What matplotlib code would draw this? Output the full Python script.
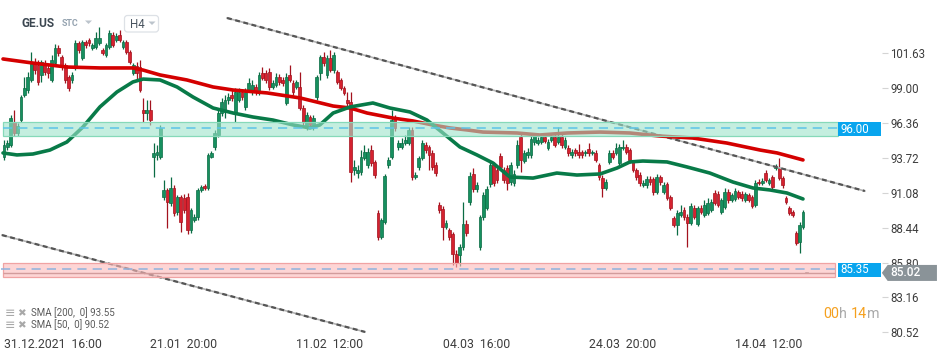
import matplotlib
matplotlib.use("Agg")
import matplotlib.pyplot as plt
from matplotlib.patches import Rectangle, Polygon, FancyBboxPatch
import numpy as np

plt.rcParams['font.family'] = ['Roboto', 'DejaVu Sans']

# ---------------- data ----------------
opens = [
    93.78, 94.54, 94.69, 96.43, 95.60, 96.58, 98.47, 98.85, 99.61, 100.89,
    100.74, 99.99, 100.89, 100.52, 99.61, 100.89, 102.03, 101.35, 100.74, 99.84,
    99.61, 100.52, 102.41, 101.27, 102.48, 102.63, 102.03, 102.10, 102.41, 101.88,
    101.50, 102.10, 103.01, 102.63, 103.01, 102.10, 102.48, 101.73, 100.14, 100.67,
    100.59, 97.34, 97.11, 97.34, 93.78, 93.94, 93.78, 90.76, 91.29, 90.30,
    91.44, 89.62, 90.76, 90.68, 90.76, 88.26, 89.02, 89.25, 91.29, 91.59,
    91.44, 93.78, 94.54, 95.45, 97.11, 97.19, 98.10, 98.47, 97.11, 98.10,
    98.70, 97.57, 98.85, 98.70, 99.08, 98.70, 100.14, 100.14, 100.21, 99.08,
    99.23, 99.84, 99.61, 97.87, 99.99, 99.38, 99.08, 99.08, 97.49, 96.05,
    96.81, 96.05, 98.32, 100.14, 101.35, 99.99, 101.27, 100.37, 100.21, 99.61,
    99.00, 98.10, 97.94, 92.80, 92.57, 92.65, 93.71, 93.18, 94.31, 93.41,
    89.55, 87.73, 88.87, 93.18, 93.78, 96.73, 94.54, 94.54, 94.84, 94.84,
    95.83, 92.27, 93.03, 93.71, 94.69, 94.54, 94.09, 93.18, 90.15, 89.85,
    88.49, 88.26, 87.96, 86.45, 86.37, 86.98, 88.72, 90.38, 92.50, 91.36,
    86.98, 89.25, 89.93, 91.74, 93.18, 92.80, 93.86, 92.80, 92.95, 91.89,
    91.82, 93.18, 95.30, 93.48, 93.94, 93.94, 94.92, 94.84, 94.92, 95.30,
    94.47, 95.07, 95.30, 94.92, 95.30, 94.54, 94.47, 93.94, 94.31, 94.16,
    94.16, 94.09, 94.39, 94.09, 94.09, 93.18, 92.20, 91.44, 93.41, 94.09,
    94.09, 93.33, 94.47, 94.54, 94.31, 93.41, 92.80, 92.42, 91.67, 91.67,
    92.12, 92.12, 91.14, 92.27, 91.14, 91.74, 90.76, 89.17, 88.64, 89.40,
    89.78, 89.25, 88.79, 89.93, 88.72, 89.93, 89.40, 89.55, 89.78, 91.06,
    90.99, 89.62, 90.00, 91.14, 90.53, 90.61, 91.14, 90.99, 90.53, 90.91,
    90.76, 90.15, 91.89, 91.82, 92.57, 91.82, 92.27, 92.95, 92.95, 92.20,
    90.68, 89.93, 89.62, 88.04, 87.35, 88.49,
]
highs = [
    95.07, 95.07, 96.96, 97.34, 96.36, 98.47, 99.84, 100.21, 101.73, 101.27,
    101.12, 101.12, 101.12, 100.74, 101.50, 102.33, 102.26, 101.50, 100.89, 99.99,
    100.21, 102.63, 102.56, 102.63, 102.63, 102.79, 102.41, 103.24, 103.62, 102.03,
    102.41, 103.39, 103.24, 103.16, 103.39, 102.63, 102.63, 101.88, 100.89, 100.97,
    101.12, 98.25, 98.10, 98.10, 94.84, 94.69, 96.21, 92.04, 91.44, 92.27,
    91.67, 90.91, 90.91, 90.99, 91.06, 89.93, 89.47, 91.44, 91.67, 91.74,
    94.09, 94.24, 95.83, 97.49, 98.25, 98.47, 98.63, 98.85, 99.00, 99.00,
    98.93, 99.00, 99.76, 99.61, 99.31, 100.21, 100.59, 100.37, 100.52, 99.61,
    100.14, 100.06, 99.84, 100.14, 100.74, 99.61, 99.61, 100.21, 97.72, 97.19,
    96.96, 96.96, 99.99, 101.50, 101.73, 101.50, 101.88, 101.73, 100.37, 99.76,
    99.15, 98.70, 98.70, 93.56, 93.18, 94.31, 94.69, 94.47, 94.69, 93.56,
    89.78, 89.17, 92.50, 93.78, 97.34, 96.96, 95.07, 95.22, 95.45, 96.05,
    96.05, 92.65, 93.86, 95.07, 94.92, 94.69, 94.31, 93.41, 90.38, 90.08,
    89.02, 88.41, 88.11, 86.75, 87.20, 90.38, 89.02, 92.65, 92.95, 91.89,
    89.40, 91.14, 91.59, 93.56, 93.41, 93.03, 94.09, 93.03, 93.18, 93.41,
    92.80, 95.07, 95.60, 94.31, 94.47, 95.37, 95.60, 95.30, 95.52, 95.52,
    95.15, 95.52, 95.52, 96.05, 95.52, 95.30, 94.69, 94.39, 94.47, 94.77,
    94.31, 94.31, 94.84, 94.31, 94.31, 93.33, 92.42, 92.12, 94.31, 94.31,
    94.84, 94.77, 95.07, 94.77, 94.47, 93.56, 92.95, 92.65, 92.04, 92.35,
    92.35, 92.27, 92.50, 92.42, 91.89, 91.89, 90.91, 89.32, 89.78, 90.15,
    90.00, 89.47, 90.30, 90.15, 90.08, 90.15, 90.53, 90.68, 90.61, 91.29,
    91.21, 90.68, 91.44, 91.36, 91.06, 91.44, 91.29, 91.21, 91.14, 91.06,
    90.91, 92.04, 92.12, 92.20, 92.80, 92.20, 92.42, 93.25, 93.71, 92.35,
    90.83, 90.08, 89.78, 88.19, 88.87, 89.78,
]
lows = [
    93.56, 94.31, 94.54, 95.37, 95.37, 96.43, 98.32, 98.63, 99.46, 100.06,
    99.23, 99.46, 99.99, 99.76, 99.46, 100.74, 101.42, 100.37, 99.38, 98.78,
    99.38, 100.37, 101.65, 101.12, 102.03, 102.18, 101.88, 101.95, 102.26, 101.50,
    101.35, 101.95, 102.10, 102.48, 102.48, 101.95, 101.58, 100.82, 99.99, 99.61,
    98.70, 96.43, 96.58, 96.21, 92.27, 93.56, 93.63, 90.53, 88.41, 90.08,
    89.32, 89.40, 88.11, 89.55, 87.96, 88.04, 88.87, 89.02, 91.14, 91.29,
    91.29, 93.71, 94.31, 95.30, 96.89, 96.73, 97.79, 98.02, 96.43, 97.94,
    98.10, 97.34, 98.70, 98.47, 98.47, 98.47, 99.61, 99.38, 98.85, 98.93,
    99.08, 99.23, 99.15, 97.72, 99.46, 98.47, 98.93, 97.34, 96.21, 95.83,
    95.98, 95.83, 98.10, 99.61, 100.67, 99.76, 100.21, 100.14, 99.31, 98.85,
    98.47, 97.64, 91.89, 92.42, 92.20, 92.42, 93.56, 92.95, 93.10, 92.20,
    87.51, 87.58, 88.72, 92.95, 93.63, 95.75, 94.31, 94.39, 94.69, 94.69,
    92.04, 92.12, 92.80, 93.56, 94.09, 92.80, 92.80, 92.35, 89.55, 87.51,
    88.34, 87.51, 85.62, 85.46, 85.54, 86.75, 87.81, 90.15, 91.14, 91.14,
    86.75, 89.02, 89.78, 91.51, 91.59, 91.82, 92.80, 91.82, 91.29, 91.67,
    91.59, 92.95, 92.65, 93.33, 93.71, 93.71, 94.69, 94.69, 94.77, 94.84,
    94.31, 94.92, 94.54, 94.77, 94.47, 94.39, 93.86, 93.71, 93.86, 93.71,
    93.71, 93.86, 93.86, 93.94, 93.41, 92.04, 90.76, 91.29, 93.25, 93.63,
    93.94, 93.10, 94.31, 94.01, 93.33, 92.65, 92.04, 91.59, 91.51, 91.44,
    91.67, 90.91, 90.99, 91.67, 90.99, 90.53, 89.78, 88.49, 87.88, 89.25,
    89.02, 86.98, 88.64, 89.10, 88.57, 89.47, 89.25, 89.40, 89.62, 90.15,
    90.00, 89.47, 89.85, 90.30, 90.38, 90.46, 90.61, 90.46, 90.38, 90.38,
    89.93, 90.00, 91.67, 91.67, 91.89, 91.67, 91.36, 92.80, 92.04, 91.44,
    90.23, 89.40, 89.25, 87.13, 86.52, 88.34,
]
closes = [
    94.69, 94.84, 96.73, 95.60, 96.13, 98.32, 99.00, 99.84, 100.97, 100.37,
    99.46, 100.97, 100.21, 100.14, 101.12, 102.03, 101.65, 100.59, 99.61, 99.00,
    99.99, 102.41, 101.88, 102.48, 102.26, 102.41, 102.26, 102.79, 102.79, 101.65,
    102.26, 103.16, 102.26, 102.94, 102.63, 102.48, 101.73, 100.97, 100.74, 100.14,
    98.85, 97.11, 97.34, 96.58, 94.09, 94.16, 95.98, 91.29, 90.38, 91.44,
    89.55, 90.76, 88.87, 89.78, 88.26, 89.78, 89.25, 91.29, 91.51, 91.44,
    93.94, 94.09, 95.60, 97.11, 97.94, 98.10, 98.32, 98.25, 98.70, 98.70,
    98.32, 98.70, 99.38, 99.23, 98.70, 99.99, 99.76, 99.61, 99.08, 99.38,
    99.84, 99.46, 99.38, 99.84, 99.61, 98.70, 99.46, 97.49, 96.43, 96.96,
    96.21, 96.73, 99.84, 101.35, 100.89, 101.27, 100.37, 101.50, 99.46, 99.00,
    98.63, 97.87, 92.65, 93.03, 92.80, 93.78, 94.16, 94.16, 93.33, 92.42,
    87.73, 89.02, 92.35, 93.56, 96.58, 95.98, 94.84, 94.84, 95.07, 95.83,
    92.27, 92.42, 93.71, 94.84, 94.31, 93.94, 93.03, 92.57, 89.78, 88.49,
    88.79, 87.73, 86.45, 85.77, 86.98, 88.72, 88.04, 92.35, 91.36, 91.67,
    89.25, 90.91, 91.36, 93.18, 91.82, 92.04, 93.03, 92.04, 91.82, 93.18,
    92.50, 94.69, 93.56, 94.09, 94.16, 95.15, 95.37, 95.07, 95.30, 94.99,
    94.92, 95.30, 94.69, 95.30, 94.69, 95.07, 94.09, 94.16, 94.09, 93.94,
    93.94, 94.16, 94.09, 94.16, 93.56, 92.27, 91.44, 91.89, 94.09, 93.78,
    94.47, 94.54, 94.54, 94.16, 93.56, 92.80, 92.27, 91.82, 91.82, 92.12,
    91.89, 91.14, 92.27, 91.89, 91.67, 90.68, 89.93, 88.64, 89.55, 89.62,
    89.25, 88.79, 90.08, 89.25, 89.93, 89.62, 90.15, 90.30, 90.38, 90.30,
    90.15, 90.53, 91.14, 90.53, 90.91, 91.21, 90.76, 90.68, 90.99, 90.53,
    90.08, 91.82, 91.82, 91.97, 92.04, 92.04, 91.51, 93.03, 92.20, 91.67,
    90.38, 89.55, 89.40, 87.28, 88.64, 89.62,
]
# live (forming) candle at the current quote
live_open, live_high, live_low, live_close = 85.06, 85.08, 84.99, 85.02

# moving averages (bar position, price)
sma200_pos = [-0.3, 8.5, 18.5, 28.2, 37.9, 40.9, 45.9, 53.8, 61.5, 67.4, 77.4, 87.1,
              96.8, 101.8, 106.8, 114.4, 120.3, 126.2, 131.2, 136.2, 140.9, 150.9,
              157.6, 165.6, 175.3, 184.1, 192.9, 202.6, 212.6, 222.4, 227.4, 235.0]
sma200_val = [101.20, 100.89, 100.59, 100.52, 100.52, 100.36, 99.99, 99.61, 99.08,
              98.85, 98.63, 98.25, 97.64, 97.49, 97.11, 96.73, 96.51, 96.20, 95.98,
              95.83, 95.67, 95.60, 95.45, 95.60, 95.67, 95.60, 95.37, 95.22, 94.84,
              94.31, 94.09, 93.56]
sma50_pos = [-0.3, 3.8, 8.5, 13.5, 18.5, 23.2, 28.2, 33.2, 37.9, 40.9, 45.9, 50.9,
             55.6, 61.5, 67.4, 73.2, 79.1, 85.0, 90.0, 92.9, 96.8, 101.8, 108.5,
             113.5, 119.4, 124.4, 129.1, 134.1, 139.1, 143.8, 148.8, 155.6, 162.6,
             168.5, 175.3, 180.3, 184.1, 187.9, 195.0, 200.9, 207.6, 214.4, 220.3,
             225.3, 230.3, 235.0]
sma50_val = [94.09, 93.94, 94.01, 94.31, 94.92, 96.05, 97.57, 98.70, 99.46, 99.68,
             99.61, 99.08, 98.32, 97.49, 97.11, 96.81, 96.58, 96.21, 95.98, 96.21,
             97.11, 97.57, 97.87, 97.49, 97.19, 96.58, 95.60, 94.54, 93.94, 93.33,
             92.27, 92.19, 92.57, 92.42, 92.50, 92.95, 93.41, 93.48, 93.41, 93.03,
             92.57, 91.89, 91.44, 91.29, 91.06, 90.61]
sma200_last = 93.55
sma50_last = 90.52

# drawn objects
upper_trend_pos = [65.6, 253.2]
upper_trend_val = [104.30, 91.21]
lower_trend_pos = [-0.6, 106.2]
lower_trend_val = [87.88, 80.55]
resistance_level = 96.00
resistance_zone = (95.37, 96.43)
support_level = 85.35
support_zone = (84.71, 85.77)
zone_start, zone_end = -0.3, 245.3
last_price = 85.02

price_ticks = [101.63, 99.00, 96.36, 93.72, 91.08, 88.44, 85.80, 83.16, 80.52]
date_tick_pos = [0, 43, 86, 129, 172, 215]
date_labels = ['31.12.2021  16:00', '21.01  20:00', '11.02  12:00',
               '04.03  16:00', '24.03  20:00', '14.04  12:00']

# ---------------- figure ----------------
W, H = 950, 358
fig = plt.figure(figsize=(W / 100, H / 100), dpi=100)
fig.patch.set_facecolor('white')
PR, PB = 882, 335
ax = fig.add_axes([0, 1 - PB / H, PR / W, PB / H])
ax.set_xlim(-1.18, 258.24)
ax.set_ylim(80.32, 105.66)
ax.set_facecolor('none')
for s in ax.spines.values():
    s.set_visible(False)

o = np.array(opens); h = np.array(highs); l = np.array(lows); c = np.array(closes)
idx = np.arange(len(o))
up = c >= o
body_col = np.where(up, '#16905f', '#d5222f')
edge_col = np.where(up, '#0a6c44', '#a3121e')
ax.vlines(idx, l, h, colors=edge_col, lw=0.9, zorder=3)
ax.bar(idx, np.maximum(np.abs(c - o), 0.07), bottom=np.minimum(o, c), width=0.8,
       color=body_col, edgecolor=edge_col, linewidth=0.5, zorder=4)
li = len(o)
ax.vlines([li], [live_low], [live_high], colors='#8a8a8a', lw=0.9, zorder=3)
ax.bar([li], [max(abs(live_close - live_open), 0.07)], bottom=[min(live_open, live_close)],
       width=0.8, color='#9a9a9a', edgecolor='#808080', linewidth=0.5, zorder=4)

# moving averages
ax.plot(sma200_pos, sma200_val, color='#d40000', lw=2.6, zorder=5, solid_capstyle='round',
        solid_joinstyle='round')
ax.plot(sma50_pos, sma50_val, color='#087a48', lw=2.6, zorder=5, solid_capstyle='round',
        solid_joinstyle='round')

# trend lines
for xs, ys in [(upper_trend_pos, upper_trend_val), (lower_trend_pos, lower_trend_val)]:
    ax.plot(xs, ys, color='#b4b4b4', lw=1.2, zorder=4.6)
    ax.plot(xs, ys, color='#555555', lw=1.6, zorder=4.7, dashes=(2.2, 1.6))

# zones
ax.add_patch(Rectangle((zone_start, resistance_zone[0]), zone_end - zone_start,
                       resistance_zone[1] - resistance_zone[0], facecolor='#9ee4cb',
                       alpha=0.6, edgecolor='none', zorder=6))
ax.add_patch(Rectangle((zone_start, resistance_zone[0]), zone_end - zone_start,
                       resistance_zone[1] - resistance_zone[0], fill=False,
                       edgecolor='#86d9b9', lw=0.9, zorder=6.1))
ax.add_patch(Rectangle((zone_start, support_zone[0]), zone_end - 0.9 - zone_start,
                       support_zone[1] - support_zone[0], facecolor='#fcb9b9',
                       alpha=0.6, edgecolor='none', zorder=6))
ax.add_patch(Rectangle((zone_start, support_zone[0]), zone_end - 0.9 - zone_start,
                       support_zone[1] - support_zone[0], fill=False,
                       edgecolor='#f0a3a3', lw=0.9, zorder=6.1))
ax.hlines(resistance_level, zone_start, zone_end, colors='#5cc4e8', lw=1.1,
          linestyles=(0, (6, 4)), zorder=7)
ax.hlines(support_level, zone_start - 0.5, zone_end, colors='#8fb2de', lw=1.1,
          linestyles=(0, (6, 4)), zorder=7)
ax.hlines(last_price, zone_start, zone_end - 0.9, colors='#d29c9c', lw=1.0, zorder=7)

# level labels
box_x0, box_x1 = 245.3, 257.9
for lvl, (z0, z1) in [(resistance_level, resistance_zone), (support_level, support_zone)]:
    ax.add_patch(Rectangle((box_x0, z0), box_x1 - box_x0, z1 - z0, facecolor='#08a5ee',
                           edgecolor='none', zorder=8, clip_on=False))
    ax.text(box_x0 + 0.7, (z0 + z1) / 2, f'{lvl:.2f}', color='white', fontsize=8.3,
            va='center', ha='left', zorder=9, clip_on=False)

# last price tag
tag = Polygon([(258.2, last_price), (259.9, 85.62), (274.4, 85.62), (274.4, 84.41),
               (259.9, 84.41)], closed=True, facecolor='#8a9398', edgecolor='none',
              zorder=10, clip_on=False)
ax.add_patch(tag)
ax.text(260.6, last_price, f'{last_price:.2f}', color='white', fontsize=8.6,
        fontweight='medium', va='center', ha='left', zorder=11, clip_on=False)

# axes ticks
ax.yaxis.tick_right()
ax.set_yticks(price_ticks)
ax.set_yticklabels([f'{v:.2f}' for v in price_ticks])
ax.tick_params(axis='y', length=4, width=0.8, color='#d4d4d4', pad=2,
               labelsize=8.3, labelcolor='#3d3d3d')
ax.set_xticks(date_tick_pos)
ax.set_xticklabels(date_labels)
for t in ax.get_xticklabels():
    t.set_ha('left')
ax.tick_params(axis='x', length=0, pad=2, labelsize=8.8, labelcolor='#3d3d3d')

# ---------------- decorations (pixel positions) ----------------
def fx(px):
    return px / W

def fy(py):
    return 1 - py / H

fig.text(fx(21), fy(23.5), 'GE.US', fontsize=8.6, fontweight='bold', color='#3b4650',
         va='center', ha='left')
fig.text(fx(62), fy(24), 'STC', fontsize=6.4, fontweight='bold', color='#95a3b0',
         va='center', ha='left')
deco = fig.add_axes([0, 0, 1, 1], zorder=5)
deco.set_xlim(0, W); deco.set_ylim(H, 0); deco.axis('off')
deco.add_patch(Polygon([(85, 20.5), (92, 20.5), (88.5, 24)], closed=True,
                       facecolor='#bcc4cc', edgecolor='none'))
deco.add_patch(FancyBboxPatch((124.5, 15.5), 34, 16.5,
                              boxstyle='round,pad=0,rounding_size=3',
                              facecolor='white', edgecolor='#dde1e6', lw=0.9))
deco.text(130, 24, 'H4', fontsize=8.3, color='#4a5560', va='center', ha='left')
deco.add_patch(Polygon([(148.5, 21.5), (155.5, 21.5), (152, 25)], closed=True,
                       facecolor='#bcc4cc', edgecolor='none'))

# SMA legend
for yy, name, val in [(313, 'SMA [200,  0] ', sma200_last), (325, 'SMA [50,  0] ', sma50_last)]:
    deco.text(5, yy, '≡', fontsize=9, color='#a8a8a8', va='center', ha='left',
              family=['DejaVu Sans'])
    deco.text(17, yy, '✖', fontsize=7.5, color='#a8a8a8', va='center', ha='left',
              family=['DejaVu Sans'])
    deco.text(31, yy, f'{name}{val:.2f}', fontsize=7, color='#5a5a5a',
              va='center', ha='left')

# countdown
fig.canvas.draw()
r = fig.canvas.get_renderer()
xpos = 823
for part, col in [('00', '#f5a01e'), ('h ', '#a9a9a9'), ('14', '#f5a01e'), ('m', '#a9a9a9')]:
    t = deco.text(xpos, 314, part, fontsize=10.3, color=col, va='center', ha='left')
    bb = t.get_window_extent(renderer=r)
    xpos += bb.width

fig.savefig('out.png', dpi=100, facecolor='white')
